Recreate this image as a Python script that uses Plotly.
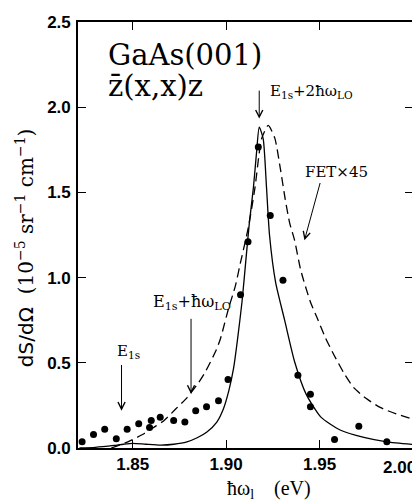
import plotly.graph_objects as go

# ---- data ----
dots_x = [1.8229, 1.8290, 1.8350, 1.8412, 1.8470, 1.8532, 1.8590, 1.8599, 1.8647,
          1.8719, 1.8779, 1.8837, 1.8895, 1.8959, 1.9010, 1.9077, 1.9117, 1.9172,
          1.9236, 1.9304, 1.9384, 1.9451, 1.9451, 1.9580, 1.9710, 1.9860]
dots_y = [0.036, 0.079, 0.110, 0.054, 0.110, 0.142, 0.121, 0.162, 0.181,
          0.162, 0.152, 0.219, 0.242, 0.277, 0.402, 0.900, 1.210, 1.767,
          1.364, 0.985, 0.427, 0.316, 0.242, 0.050, 0.127, 0.036]

solid_x = [1.8215, 1.8300, 1.8400, 1.8450, 1.8500, 1.8570, 1.8650, 1.8720, 1.8790,
           1.8845, 1.8897, 1.8950, 1.8985, 1.9015, 1.9040, 1.9060, 1.9085, 1.9107,
           1.9124, 1.9146, 1.9163, 1.9177, 1.9198, 1.9216, 1.9232, 1.9265, 1.9313,
           1.9366, 1.9428, 1.9507, 1.9613, 1.9737, 1.9860, 2.0000]
solid_y = [0.000, 0.004, 0.015, 0.022, 0.027, 0.022, 0.017, 0.022, 0.036,
           0.060, 0.094, 0.152, 0.229, 0.340, 0.470, 0.630, 0.860, 1.120,
           1.320, 1.530, 1.740, 1.883, 1.816, 1.527, 1.250, 0.970, 0.750,
           0.508, 0.316, 0.181, 0.104, 0.062, 0.036, 0.021]

dash_x = [1.8385, 1.8474, 1.8562, 1.8625, 1.8668, 1.8731, 1.8791, 1.8850, 1.8890,
          1.8943, 1.8969, 1.9013, 1.9049, 1.9075, 1.9119, 1.9154, 1.9190, 1.9225,
          1.9260, 1.9290, 1.9316, 1.9340, 1.9366, 1.9400, 1.9450, 1.9489, 1.9530,
          1.9577, 1.9630, 1.9683, 1.9750, 1.9824, 1.9910, 1.9996]
dash_y = [0.000, 0.036, 0.085, 0.130, 0.162, 0.230, 0.296, 0.380, 0.450,
          0.566, 0.640, 0.820, 0.950, 1.080, 1.296, 1.527, 1.816, 1.893,
          1.820, 1.640, 1.460, 1.320, 1.220, 1.040, 0.860, 0.758, 0.650,
          0.546, 0.440, 0.354, 0.290, 0.238, 0.200, 0.171]

x_tickvals = [1.85, 1.90, 1.95, 2.00]
x_ticktext = ["1.85", "1.90", "1.95", ""]
y_tickvals = [0.0, 0.5, 1.0, 1.5, 2.0, 2.5]
y_ticktext = ["0.0", "0.5", "1.0", "1.5", "2.0", "2.5"]

SERIF = "DejaVu Serif"
SANS = "Liberation Sans"
NB = "\u00a0"

fig = go.Figure()
fig.add_trace(go.Scatter(x=dash_x, y=dash_y, mode="lines",
                         line=dict(color="black", width=1.3, dash="9px,5px", shape="spline", smoothing=0.6),
                         showlegend=False, hoverinfo="skip"))
fig.add_trace(go.Scatter(x=solid_x, y=solid_y, mode="lines",
                         line=dict(color="black", width=1.3, shape="spline", smoothing=0.6),
                         showlegend=False, hoverinfo="skip"))
fig.add_trace(go.Scatter(x=dots_x, y=dots_y, mode="markers",
                         marker=dict(color="black", size=7),
                         showlegend=False, hoverinfo="skip"))

axis_common = dict(showline=True, linecolor="black", linewidth=1.6, mirror="ticks",
                   ticks="inside", ticklen=8, tickwidth=1.2, tickcolor="black",
                   showgrid=False, zeroline=False, ticklabeloverflow="allow",
                   tickfont=dict(family=SANS, size=17, color="black", weight="bold"))

fig.update_xaxes(range=[1.8207, 2.0], tickvals=x_tickvals, ticktext=x_ticktext, **axis_common)
fig.update_yaxes(range=[0, 2.5], tickvals=y_tickvals, ticktext=y_ticktext,
                 ticklabelstandoff=2, **axis_common)

ann = []
# texts
ann.append(dict(x=1.8357, y=2.308, xref="x", yref="y", text="GaAs(001)", showarrow=False,
                xanchor="left", yanchor="middle", font=dict(family=SERIF, size=29, color="black")))
ann.append(dict(x=1.8357, y=2.123, xref="x", yref="y", text="z\u0304(x,x)z", showarrow=False,
                xanchor="left", yanchor="middle", font=dict(family=SERIF, size=29, color="black")))
ann.append(dict(x=1.9225, y=2.095, xref="x", yref="y", text="E<sub>1s</sub>+2ħω<sub>LO</sub>",
                showarrow=False, xanchor="left", yanchor="middle",
                font=dict(family=SERIF, size=15, color="black")))
ann.append(dict(x=1.9593, y=1.621, xref="x", yref="y", text="FET×45", showarrow=False,
                xanchor="center", yanchor="middle", font=dict(family=SERIF, size=15, color="black")))
ann.append(dict(x=1.8815, y=0.854, xref="x", yref="y", text="E<sub>1s</sub>+ħω<sub>LO</sub>",
                showarrow=False, xanchor="center", yanchor="middle",
                font=dict(family=SERIF, size=16, color="black")))
ann.append(dict(x=1.8476, y=0.565, xref="x", yref="y", text="E<sub>1s</sub>", showarrow=False,
                xanchor="center", yanchor="middle", font=dict(family=SERIF, size=15, color="black")))
# arrows
arrows = [((1.9177, 1.933), (1.9177, 2.106)),
          ((1.9419, 1.219), (1.9505, 1.564)),
          ((1.8812, 0.317), (1.8812, 0.767)),
          ((1.8440, 0.219), (1.8440, 0.496))]
for (tx, ty), (sx, sy) in arrows:
    ann.append(dict(x=tx, y=ty, ax=sx, ay=sy, xref="x", yref="y", axref="x", ayref="y",
                    text="", showarrow=True, arrowhead=5, arrowsize=1.4, arrowwidth=1,
                    arrowcolor="black", standoff=0, startstandoff=0))
# last x tick label (shifted inside the picture like the reference)
ann.append(dict(x=2.0, y=0, xref="x", yref="y", text="2.00", showarrow=False,
                xanchor="center", yanchor="top", xshift=-14, yshift=-8,
                font=dict(family=SANS, size=17, color="black", weight="bold")))
# axis titles
ann.append(dict(x=-0.16, y=0.47, xref="paper", yref="paper", textangle=-90,
                text="<span style=\"font-family:DejaVu Sans\">dS/dΩ</span>"
                     + NB + NB + "(10<sup>−5</sup> sr<sup>−1</sup> cm<sup>−1</sup>)",
                showarrow=False, xanchor="center", yanchor="middle",
                font=dict(family=SERIF, size=20, color="black")))
ann.append(dict(x=0.57, y=-0.097, xref="paper", yref="paper",
                text="ħω<sub>l</sub>" + NB * 4 + "(eV)", showarrow=False,
                xanchor="center", yanchor="middle",
                font=dict(family="Liberation Serif", size=20, color="black")))

# page body has an 8px margin, so the figure is made 8px smaller and margins shifted
fig.update_layout(width=412, height=494, margin=dict(l=70, r=5, t=7, b=54),
                  paper_bgcolor="white", plot_bgcolor="white", annotations=ann,
                  showlegend=False)

fig.write_html("out.html")
